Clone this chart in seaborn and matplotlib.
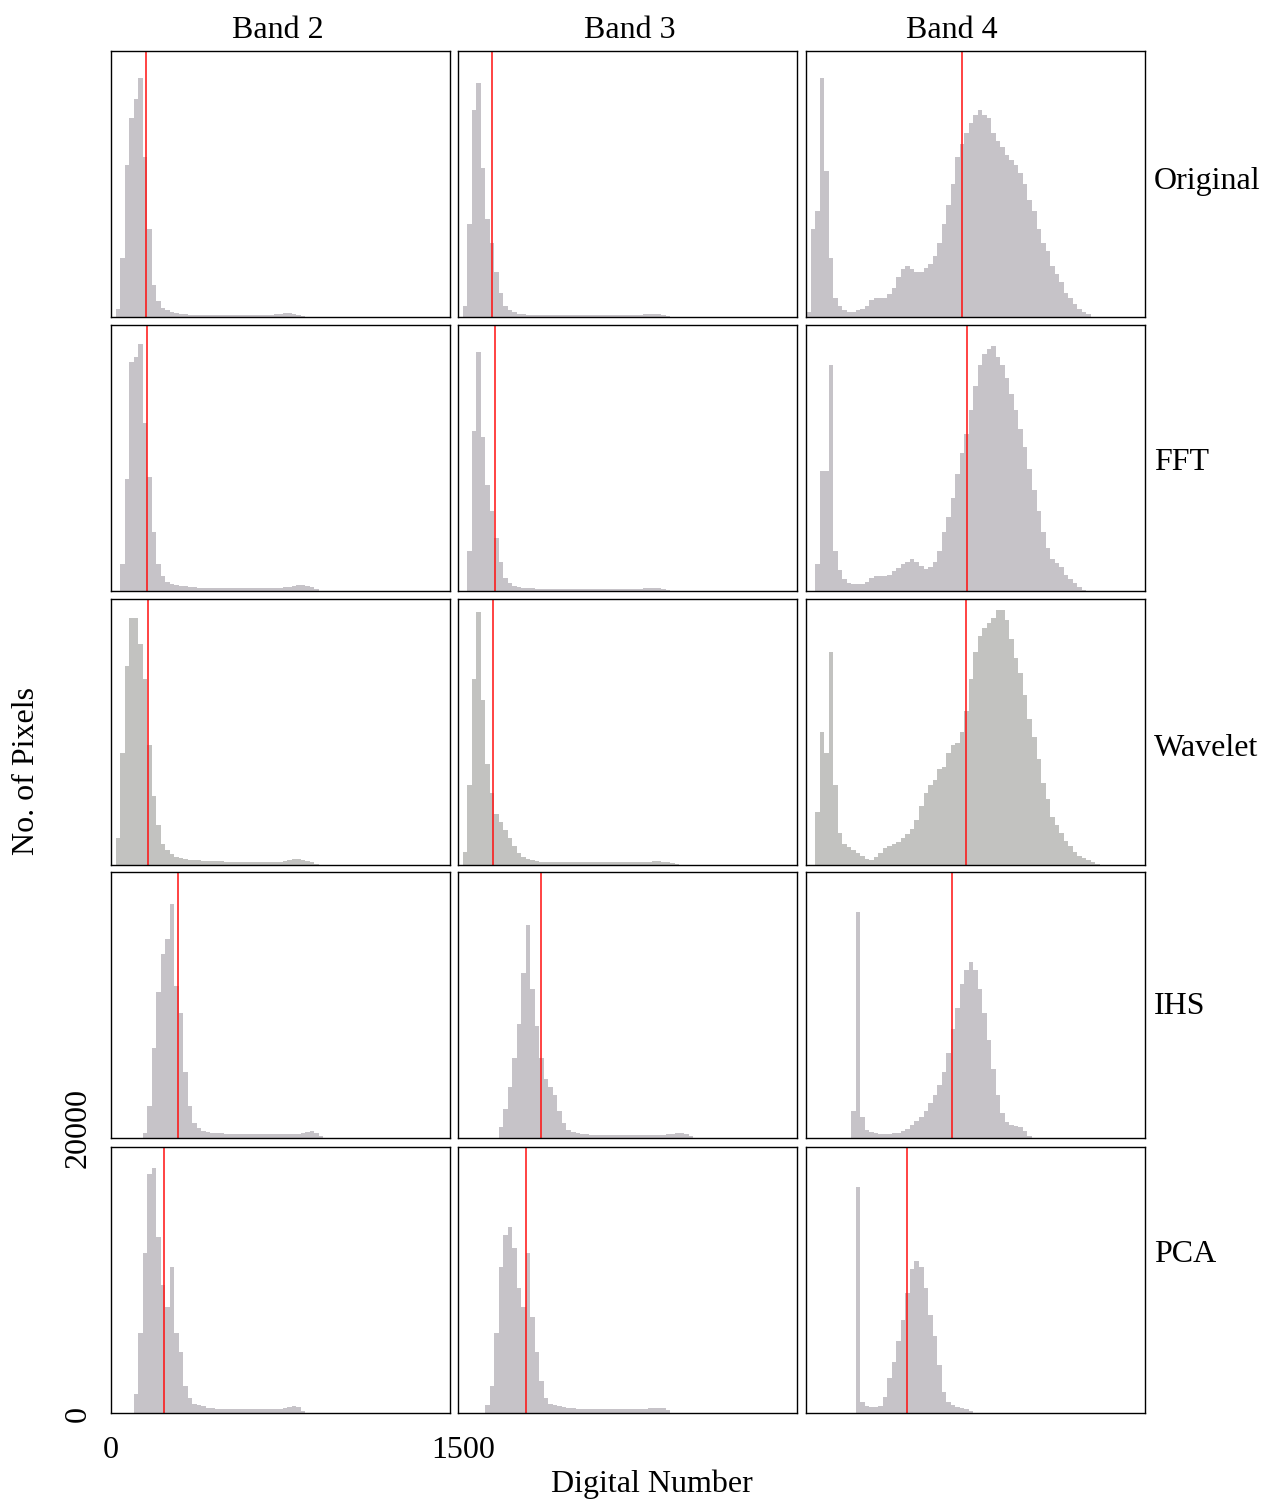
import numpy as np
import pandas as pd
import matplotlib
matplotlib.use("Agg")
import matplotlib.pyplot as plt
import seaborn as sns

# ---------------- data ----------------
bands = ["Band 2", "Band 3", "Band 4"]
methods = ["Original", "FFT", "Wavelet", "IHS", "PCA"]
BIN_WIDTH = 20  # digital-number width of each histogram bin, bins start at 0

# pixel counts per bin (bin i covers [20*i, 20*i+20) DN)
b2_original = [0, 600, 4400, 11400, 15000, 16400, 18000, 12000, 6600, 2400,
               1200, 700, 500, 360, 280, 220, 200, 180, 160, 160,
               160, 140, 140, 140, 140, 140, 140, 140, 140, 140,
               140, 140, 160, 160, 160, 180, 220, 260, 300, 280,
               220, 140, 60]
b3_original = [0, 800, 7000, 15600, 17600, 11200, 7400, 5600, 3400, 1800,
               800, 500, 360, 260, 200, 180, 160, 160, 140, 140,
               140, 120, 120, 120, 120, 120, 120, 120, 120, 120,
               120, 120, 120, 120, 120, 120, 120, 120, 120, 120,
               160, 200, 220, 220, 200, 160, 100]
b4_original = [400, 6600, 8000, 18000, 11000, 4400, 1400, 800, 500, 400,
               400, 500, 600, 800, 1300, 1400, 1400, 1400, 1700, 2200,
               3000, 3600, 3800, 3600, 3400, 3400, 3700, 4000, 4600, 5600,
               7000, 8400, 10000, 12000, 13000, 13800, 14600, 15200, 15600, 15200,
               15000, 13800, 13200, 12800, 12200, 11800, 11400, 10800, 10000, 8800,
               8000, 6600, 5600, 5000, 3800, 3200, 2600, 1800, 1400, 1000,
               600, 400, 200]

b2_fft = [0, 0, 2000, 8400, 17200, 17600, 18600, 12600, 8600, 4400,
          2000, 1100, 700, 540, 440, 400, 360, 320, 300, 260,
          260, 260, 260, 260, 260, 260, 260, 260, 260, 260,
          260, 260, 260, 260, 260, 260, 260, 260, 280, 320,
          380, 420, 440, 400, 300, 120]
b3_fft = [0, 0, 3000, 12000, 18000, 11600, 8000, 6000, 4000, 2200,
          1000, 600, 400, 300, 240, 220, 200, 180, 160, 140,
          140, 140, 140, 140, 140, 140, 140, 140, 140, 140,
          140, 140, 140, 140, 140, 140, 140, 140, 140, 140,
          180, 220, 240, 240, 200, 160, 100]
b4_fft = [0, 0, 2000, 9000, 9000, 17000, 3000, 1600, 900, 600,
          500, 500, 560, 700, 1000, 1100, 1100, 1140, 1200, 1500,
          1700, 2000, 2200, 2400, 2200, 1900, 1640, 1800, 2200, 3000,
          4400, 5600, 7000, 8800, 10400, 11800, 13600, 15400, 17000, 17800,
          18200, 18400, 17600, 17000, 16000, 14800, 13600, 12200, 10800, 9200,
          7600, 6000, 4400, 3200, 2400, 2100, 1800, 1200, 900, 600,
          300, 100]

b2_wavelet = [0, 2000, 8400, 15000, 18600, 18600, 16600, 14000, 9000, 5200,
              3000, 1600, 1100, 800, 600, 500, 440, 400, 360, 340,
              320, 300, 300, 280, 280, 260, 260, 260, 260, 260,
              260, 260, 260, 260, 260, 260, 260, 260, 320, 380,
              420, 440, 400, 320, 200, 80]
b3_wavelet = [0, 1000, 6000, 14000, 19000, 12400, 7600, 5400, 3800, 3200,
              2600, 2000, 1400, 900, 600, 440, 340, 280, 240, 240,
              220, 200, 200, 200, 200, 200, 200, 200, 200, 200,
              200, 200, 200, 200, 200, 200, 200, 200, 200, 200,
              200, 220, 260, 280, 280, 260, 220, 160, 80]
b4_wavelet = [0, 0, 4000, 10000, 8400, 16000, 6000, 2400, 1600, 1360,
              1100, 900, 660, 480, 400, 600, 900, 1300, 1460, 1560,
              1760, 2000, 2300, 2700, 3400, 4400, 5400, 6000, 6400, 7200,
              7400, 8400, 9000, 9200, 10000, 11600, 14000, 16000, 17200, 17800,
              18200, 18600, 19200, 19200, 18400, 17000, 15600, 14400, 12800, 11000,
              9600, 8000, 6200, 5000, 3600, 3000, 2400, 1800, 1400, 1000,
              640, 500, 360, 200, 80]

b2_ihs = [0, 0, 0, 0, 0, 0, 0, 400, 2400, 6800,
          11000, 13800, 15000, 17600, 11400, 9400, 5000, 2400, 1100, 760,
          560, 440, 400, 360, 340, 320, 320, 300, 280, 280,
          280, 280, 280, 280, 280, 280, 280, 280, 280, 280,
          280, 320, 400, 480, 500, 400, 160]
b3_ihs = [0, 0, 0, 0, 0, 0, 0, 0, 0, 800,
          2200, 3800, 6000, 8600, 12400, 16000, 11200, 8400, 6000, 4400,
          3800, 3200, 2000, 1100, 600, 440, 360, 300, 280, 260,
          260, 240, 240, 240, 240, 240, 240, 240, 240, 240,
          240, 240, 240, 240, 240, 240, 280, 320, 360, 340,
          280, 120]
b4_ihs = [0, 0, 0, 0, 0, 0, 0, 0, 0, 0,
          2000, 17000, 1600, 600, 440, 360, 320, 300, 300, 340,
          400, 560, 700, 1000, 1300, 1600, 2000, 2600, 3200, 4000,
          5000, 6400, 8200, 9800, 11600, 12600, 13200, 12600, 11200, 9400,
          7400, 5200, 3200, 1900, 1200, 1000, 920, 800, 500, 160]

b2_pca = [0, 0, 0, 0, 0, 1400, 6000, 12000, 18000, 18400,
          13200, 9600, 8000, 11000, 6000, 4600, 2000, 1100, 700, 600,
          520, 400, 340, 280, 280, 280, 280, 280, 280, 280,
          280, 280, 280, 280, 280, 280, 280, 280, 360, 440,
          500, 440, 160]
b3_pca = [0, 0, 0, 0, 0, 0, 600, 2000, 6000, 11000,
          13400, 14000, 12400, 9400, 8000, 12000, 7200, 4600, 2400, 1100,
          700, 600, 560, 440, 400, 360, 300, 300, 300, 300,
          300, 300, 300, 300, 300, 300, 300, 300, 300, 300,
          300, 300, 360, 400, 400, 360, 240]
b4_pca = [0, 0, 0, 0, 0, 0, 0, 0, 0, 0,
          0, 17000, 800, 500, 440, 440, 560, 1200, 2600, 3800,
          5400, 7000, 9000, 10800, 11400, 11000, 9400, 7400, 5800, 3600,
          1600, 800, 600, 480, 400, 300, 160]

# mean digital number (red line) per method, for each band
mean_b2 = [157, 161, 163, 297, 236]
mean_b3 = [150, 163, 156, 366, 299]
mean_b4 = [692, 714, 710, 647, 449]

panel_counts = {
    ("Original", "Band 2"): b2_original, ("Original", "Band 3"): b3_original, ("Original", "Band 4"): b4_original,
    ("FFT", "Band 2"): b2_fft, ("FFT", "Band 3"): b3_fft, ("FFT", "Band 4"): b4_fft,
    ("Wavelet", "Band 2"): b2_wavelet, ("Wavelet", "Band 3"): b3_wavelet, ("Wavelet", "Band 4"): b4_wavelet,
    ("IHS", "Band 2"): b2_ihs, ("IHS", "Band 3"): b3_ihs, ("IHS", "Band 4"): b4_ihs,
    ("PCA", "Band 2"): b2_pca, ("PCA", "Band 3"): b3_pca, ("PCA", "Band 4"): b4_pca,
}
panel_means = {"Band 2": mean_b2, "Band 3": mean_b3, "Band 4": mean_b4}

rows = []
for (m, b), counts in panel_counts.items():
    for i, c in enumerate(counts):
        rows.append({"method": m, "band": b, "dn": i * BIN_WIDTH + BIN_WIDTH / 2, "count": c})
df = pd.DataFrame(rows)

# ---------------- style ----------------
sns.set_style("white")
plt.rcParams["font.family"] = ["Liberation Serif", "DejaVu Serif"]
plt.rcParams["text.color"] = "black"

W, H = 1266, 1499
fig = plt.figure(figsize=(W / 100, H / 100), dpi=100)

col_left = [111, 458, 806]
row_top = [51, 325, 599, 872, 1147]
pw, ph = 339, 266

fill_default = "#c6c3c8"
fill_wavelet = "#c2c2c0"

for r, m in enumerate(methods):
    for c, b in enumerate(bands):
        ax = fig.add_axes([col_left[c] / W, 1 - (row_top[r] + ph) / H, pw / W, ph / H])
        sub = df[(df["method"] == m) & (df["band"] == b)].reset_index(drop=True)
        n = len(sub)
        sns.histplot(data=sub, x="dn", weights="count", binwidth=BIN_WIDTH,
                     binrange=(0, n * BIN_WIDTH), element="step",
                     fill=True, color=fill_wavelet if m == "Wavelet" else fill_default,
                     alpha=1.0, linewidth=0, ax=ax)
        ax.axvline(panel_means[b][r], color="#ff1010", lw=1.1)
        ax.set_xlim(0, 1500)
        ax.set_ylim(0, 20000)
        ax.set_xticks([])
        ax.set_yticks([])
        ax.set_xlabel("")
        ax.set_ylabel("")
        for s in ax.spines.values():
            s.set_visible(True)
            s.set_color("black")
            s.set_linewidth(1.0)

FS = 23
def ftext(x, y, s, **kw):
    fig.text(x / W, 1 - y / H, s, fontsize=FS, color="black", **kw)

title_x = [278, 630, 952]
for c, b in enumerate(bands):
    ftext(title_x[c], 31, b, ha="center", va="center")

row_label_y = [181, 462, 748, 1006, 1255]
for r, m in enumerate(methods):
    ftext(1154, row_label_y[r], m, ha="left", va="center")

ftext(27, 771, "No. of Pixels", rotation=90, ha="center", va="center")
ftext(652, 1484, "Digital Number", ha="center", va="center")
ftext(111, 1451, "0", ha="center", va="center")
ftext(463, 1451, "1500", ha="center", va="center")
ftext(78, 1414, "0", rotation=90, ha="center", va="center")
ftext(78, 1128, "20000", rotation=90, ha="center", va="center")

fig.savefig("out.png", dpi=100)
